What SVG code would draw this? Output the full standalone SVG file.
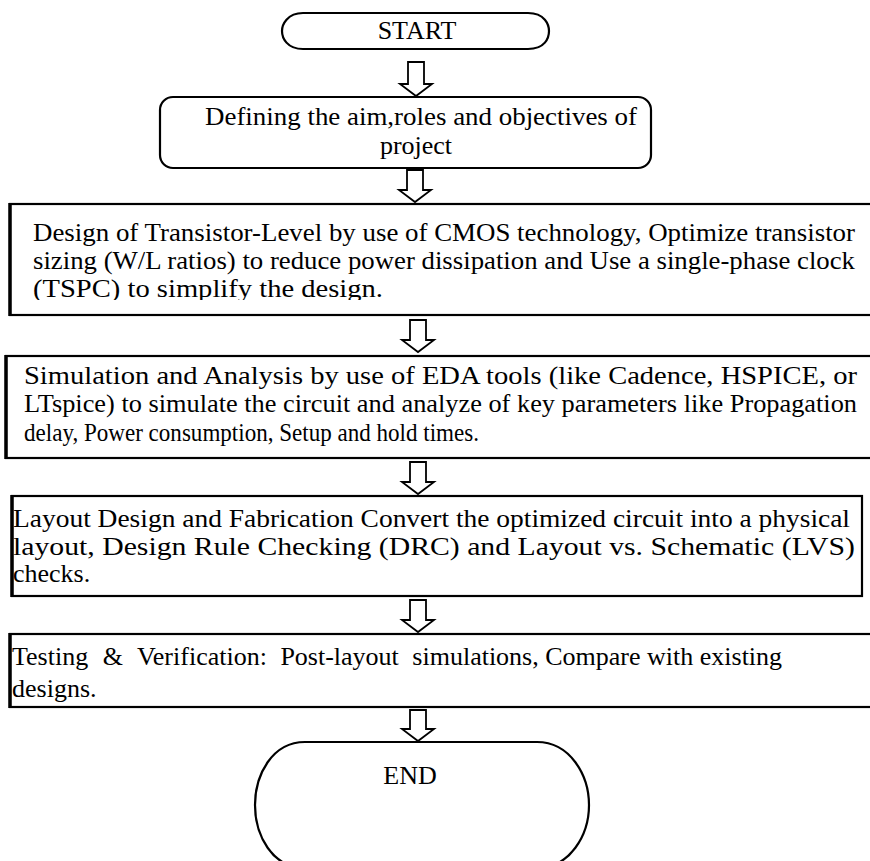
<svg xmlns="http://www.w3.org/2000/svg" width="870" height="861" viewBox="0 0 870 861">
<style>
.t{font-family:"Liberation Serif","Times New Roman",serif;font-size:26px;fill:#000}
.b{fill:#fff;stroke:#000;stroke-width:2.2}
.e{stroke:#000;stroke-width:3.5}
.a{fill:#fff;stroke:#000;stroke-width:1.8;stroke-linejoin:miter}
</style>
<defs>
<clipPath id="c3"><rect x="0" y="200" width="870" height="100"/></clipPath>
</defs>
<rect width="870" height="861" fill="#fff"/>
<g id="start">
<path class="b" d="M303,13 H528 C545,13 549,25 549,31 C549,38 545,49 528,49 H303 C287,49 282,38 282,31 C282,25 287,13 303,13 Z"/>
<text class="t" x="417" y="39" text-anchor="middle">START</text>
</g>
<g id="define">
<rect class="b" x="160" y="97" width="491" height="71" rx="13"/>
<text class="t" x="421" y="125" text-anchor="middle" textLength="432" lengthAdjust="spacingAndGlyphs">Defining the aim,roles and objectives of</text>
<text class="t" x="416" y="154" text-anchor="middle">project</text>
</g>
<g id="design">
<rect class="b" x="10" y="204" width="880" height="111"/>
<line class="e" x1="10" y1="203" x2="10" y2="316"/>
<g clip-path="url(#c3)">
<text class="t" x="33" y="241" textLength="822" lengthAdjust="spacingAndGlyphs">Design of Transistor-Level by use of CMOS technology, Optimize transistor</text>
<text class="t" x="33" y="269" textLength="822" lengthAdjust="spacingAndGlyphs">sizing (W/L ratios) to reduce power dissipation and Use a single-phase  clock</text>
<text class="t" x="33" y="297" textLength="350" lengthAdjust="spacingAndGlyphs">(TSPC) to simplify the design.</text>
</g>
</g>
<g id="simulation">
<rect class="b" x="6" y="356" width="880" height="102"/>
<line class="e" x1="6" y1="355" x2="6" y2="459"/>
<text class="t" x="24" y="384" textLength="833" lengthAdjust="spacingAndGlyphs">Simulation and Analysis by use of EDA tools (like Cadence, HSPICE, or</text>
<text class="t" x="24" y="412" textLength="833" lengthAdjust="spacingAndGlyphs">LTspice) to simulate the circuit and analyze of key parameters like Propagation</text>
<text class="t" x="24" y="441" textLength="455" lengthAdjust="spacingAndGlyphs">delay, Power consumption, Setup and hold times.</text>
</g>
<g id="layout">
<rect class="b" x="12" y="496" width="850" height="100"/>
<line class="e" x1="12" y1="495" x2="12" y2="597"/>
<text class="t" x="13" y="527" textLength="837" lengthAdjust="spacingAndGlyphs">Layout Design and Fabrication Convert the optimized circuit into a physical</text>
<text class="t" x="13" y="555" textLength="842" lengthAdjust="spacingAndGlyphs">layout, Design Rule Checking (DRC) and Layout vs. Schematic (LVS)</text>
<text class="t" x="13" y="582">checks.</text>
</g>
<g id="testing">
<rect class="b" x="10" y="634" width="880" height="73"/>
<line class="e" x1="10" y1="633" x2="10" y2="708"/>
<text class="t" x="12" y="665">Testing<tspan dx="8"> &amp;</tspan><tspan dx="8"> Verification:</tspan><tspan dx="7"> Post-layout</tspan><tspan dx="7"> simulations, Compare with existing</tspan></text>
<text class="t" x="12" y="697">designs.</text>
</g>
<g id="end">
<path class="b" d="M305,742 H537 C570,742 589,775 589,805 C589,835 570,868 537,868 H305 C272,868 255,835 255,805 C255,775 272,742 305,742 Z"/>
<text class="t" x="410" y="784" text-anchor="middle">END</text>
</g>
<g id="connectors">
<polygon class="a" points="408,62 424,62 424,84 432,84 416,96 400,84 408,84"/>
<polygon class="a" points="407,170 423,170 423,190 431,190 415,202 399,190 407,190"/>
<polygon class="a" points="410,320 426,320 426,340 434,340 418,352 402,340 410,340"/>
<polygon class="a" points="410,462 426,462 426,482 434,482 418,494 402,482 410,482"/>
<polygon class="a" points="410,600 426,600 426,620 434,620 418,632 402,620 410,620"/>
<polygon class="a" points="410,710 426,710 426,729 434,729 418,741 402,729 410,729"/>
</g>
</svg>
